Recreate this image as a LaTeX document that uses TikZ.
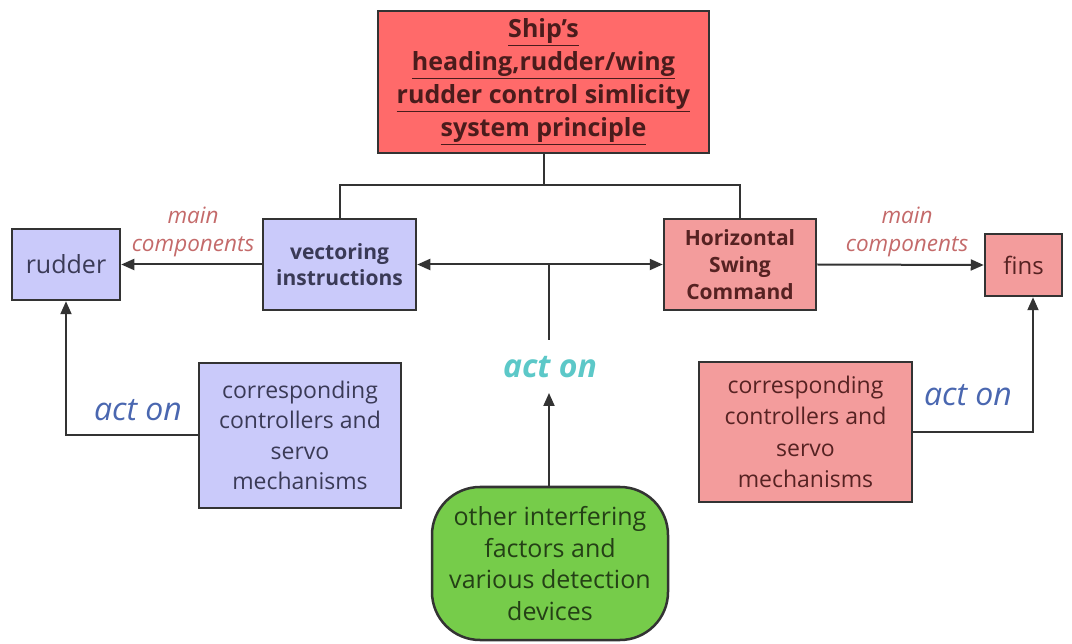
\documentclass[tikz,border=0pt]{standalone}
\usepackage{fontspec}
\setmainfont{Open Sans}
\usetikzlibrary{arrows.meta,calc}
\definecolor{titlefill}{HTML}{FF6A6A}
\definecolor{bluefill}{HTML}{CACAFA}
\definecolor{pinkfill}{HTML}{F39C9C}
\definecolor{greenfill}{HTML}{76CC4A}
\definecolor{edge}{HTML}{333333}
\definecolor{titletext}{HTML}{4A1C1C}
\definecolor{bluetext}{HTML}{3A3A56}
\definecolor{pinktext}{HTML}{562222}
\definecolor{greentext}{HTML}{244016}
\definecolor{labred}{HTML}{C46A6A}
\definecolor{labblue}{HTML}{4A67B0}
\definecolor{labteal}{HTML}{5CC8C8}
\tikzset{
  box/.style={draw=edge, line width=2.5pt, align=center, inner sep=0pt},
  bluebox/.style={box, fill=bluefill, text=bluetext},
  pinkbox/.style={box, fill=pinkfill, text=pinktext},
  conn/.style={draw=edge, line width=2pt},
  arr/.style={conn, -{Triangle[length=13pt,width=11pt]}},
  lab/.style={font=\fontsize{22.5}{28}\selectfont\itshape, text=labred, align=center},
  actlab/.style={font=\fontsize{32}{34}\selectfont\itshape, text=labblue},
}
\begin{document}
\begin{tikzpicture}[x=1pt,y=-1pt]
\useasboundingbox (0,0) rectangle (1072,644);
% title
\node[box, fill=titlefill, text=titletext, minimum width=331, minimum height=142,
  font=\fontsize{25}{33}\selectfont\bfseries] (title) at (543.5,82)
  {\underline{Ship's}\\\underline{heading,rudder/wing}\\\underline{rudder control simlicity}\\\underline{system principle}};
% main boxes
\node[bluebox, minimum width=153, minimum height=91, font=\fontsize{21}{26}\selectfont\bfseries] (vec) at (339.5,264.5) {vectoring\\instructions};
\node[pinkbox, minimum width=152, minimum height=91, font=\fontsize{21}{27}\selectfont\bfseries] (hor) at (740,264.5) {Horizontal\\Swing\\Command};
\node[bluebox, minimum width=108, minimum height=71, font=\fontsize{25}{28}\selectfont] (rud) at (66,264.5) {rudder};
\node[pinkbox, minimum width=77, minimum height=62, font=\fontsize{24}{28}\selectfont] (fins) at (1023.5,265) {fins};
\node[bluebox, minimum width=202, minimum height=145, font=\fontsize{23}{30.5}\selectfont] (lbox) at (300,435.5) {corresponding\\controllers and\\servo\\mechanisms};
\node[pinkbox, minimum width=213, minimum height=140, font=\fontsize{23}{31.5}\selectfont] (rbox) at (805.5,432) {corresponding\\controllers and\\servo\\mechanisms};
\node[box, fill=greenfill, text=greentext, rounded corners=48, minimum width=236, minimum height=153, font=\fontsize{25}{31.5}\selectfont] (green) at (550,563.5) {other interfering\\factors and\\various detection\\devices};
% tree from title
\coordinate (tj) at (543.5,185);
\draw[conn] (title.south) -- (tj);
\draw[conn] (vec.north) -- (vec.north |- tj) -- (hor.north |- tj) -- (hor.north);
% horizontal arrows
\draw[arr] (vec.west) -- (rud.east);
\draw[arr] (hor.east) -- (fins.west);
\draw[conn, {Triangle[length=13pt,width=11pt]}-{Triangle[length=13pt,width=11pt]}] (vec.east) -- (hor.west);
\node[lab] (ml) at (193,232) {main\\components};
\node[lab] (mr) at (907,232) {main\\components};
% middle act on
\coordinate (m) at (549,264.5);
\coordinate (a1) at (549,340);
\coordinate (a2) at (549,393);
\draw[conn] (m) -- (a1);
\draw[arr] (green.north -| a2) -- (a2);
\node[font=\fontsize{32}{34}\selectfont\bfseries\itshape, text=labteal] (actm) at (550,367) {act on};
% side act on
\coordinate (lc) at (66,435.5);
\draw[arr] (lbox.west) -- (lc) -- (rud.south);
\node[actlab] (actl) at (138,410) {act on};
\coordinate (rc) at (1033,432);
\draw[arr] (rbox.east) -- (rc) -- (rc |- fins.south);
\node[actlab] (actr) at (968,395) {act on};
\end{tikzpicture}
\end{document}
